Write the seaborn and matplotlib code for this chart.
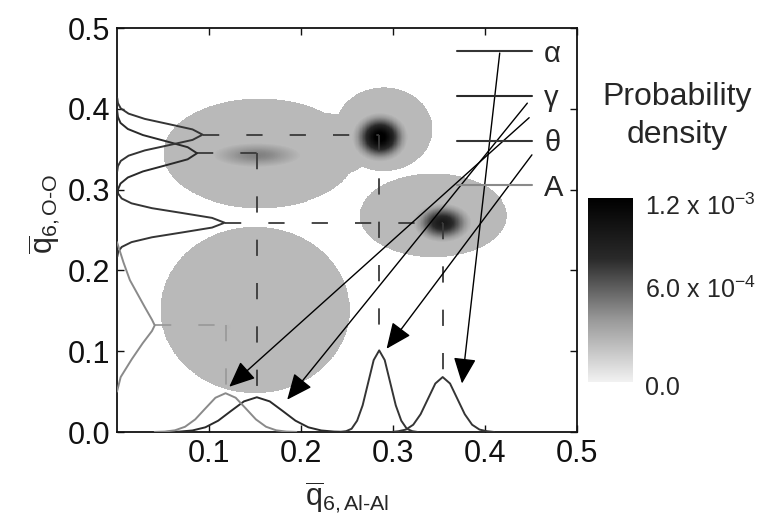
import numpy as np
import matplotlib
matplotlib.use("Agg")
import matplotlib.pyplot as plt
import seaborn as sns
from matplotlib.colors import LinearSegmentedColormap

sns.set_theme(style="ticks")
plt.rcParams['font.family'] = ['Liberation Sans', 'DejaVu Sans']
plt.rcParams['mathtext.fontset'] = 'custom'
plt.rcParams['mathtext.rm'] = 'Liberation Sans'
plt.rcParams['mathtext.it'] = 'Liberation Sans:italic'
plt.rcParams['mathtext.bf'] = 'Liberation Sans:bold'
plt.rcParams['mathtext.sf'] = 'Liberation Sans'

# ---------------- data ----------------
phases = ['α', 'γ', 'θ', 'A']
phase_colors = ['#353535', '#2a2a2a', '#353535', '#8a8a8a']

# bottom marginal distributions (x = q6,Al-Al, y = density scaled)
alpha_bx = [0.298, 0.306, 0.314, 0.322, 0.330, 0.338, 0.346, 0.354, 0.362, 0.370, 0.378, 0.386, 0.394, 0.402, 0.410]
alpha_by = [0.000, 0.001, 0.003, 0.009, 0.022, 0.041, 0.060, 0.068, 0.060, 0.041, 0.022, 0.009, 0.003, 0.001, 0.000]
gamma_bx = [0.054, 0.068, 0.082, 0.096, 0.110, 0.124, 0.138, 0.152, 0.166, 0.180, 0.194, 0.208, 0.222, 0.236, 0.250]
gamma_by = [0.0001, 0.0005, 0.0019, 0.0058, 0.0140, 0.0261, 0.0379, 0.0430, 0.0379, 0.0261, 0.0140, 0.0058, 0.0019, 0.0005, 0.0001]
theta_bx = [0.243, 0.249, 0.255, 0.261, 0.267, 0.273, 0.279, 0.285, 0.291, 0.297, 0.303, 0.309, 0.315, 0.321, 0.327]
theta_by = [0.000, 0.001, 0.004, 0.014, 0.033, 0.061, 0.089, 0.101, 0.089, 0.061, 0.033, 0.014, 0.004, 0.001, 0.000]
amor_bx = [0.041, 0.052, 0.063, 0.074, 0.085, 0.096, 0.107, 0.118, 0.129, 0.140, 0.151, 0.162, 0.173, 0.184, 0.195]
amor_by = [0.0001, 0.0005, 0.0021, 0.0065, 0.0156, 0.0291, 0.0424, 0.0480, 0.0424, 0.0291, 0.0156, 0.0065, 0.0021, 0.0005, 0.0001]

# left marginal distributions (y = q6,O-O, x = density scaled)
alpha_ly = [0.217, 0.223, 0.229, 0.235, 0.241, 0.247, 0.253, 0.259, 0.265, 0.271, 0.277, 0.283, 0.289, 0.295, 0.301]
alpha_lx = [0.0003, 0.0013, 0.0051, 0.0158, 0.0380, 0.0710, 0.1033, 0.117, 0.1033, 0.0710, 0.0380, 0.0158, 0.0051, 0.0013, 0.0003]
gamma_ly = [0.2925, 0.300, 0.3075, 0.315, 0.3225, 0.330, 0.3375, 0.345, 0.3525, 0.360, 0.3675, 0.375, 0.3825, 0.390, 0.3975]
gamma_lx = [0.0002, 0.0010, 0.0038, 0.0118, 0.0282, 0.0528, 0.0768, 0.087, 0.0768, 0.0528, 0.0282, 0.0118, 0.0038, 0.0010, 0.0002]
theta_ly = [0.3225, 0.329, 0.3355, 0.342, 0.3485, 0.355, 0.3615, 0.368, 0.3745, 0.381, 0.3875, 0.394, 0.4005, 0.407, 0.4135]
theta_lx = [0.0002, 0.0010, 0.0041, 0.0126, 0.0302, 0.0564, 0.0821, 0.093, 0.0821, 0.0564, 0.0302, 0.0126, 0.0041, 0.0010, 0.0002]
amor_ly = [0.050, 0.068, 0.090, 0.110, 0.125, 0.132, 0.139, 0.155, 0.188, 0.210, 0.235]
amor_lx = [0.000, 0.004, 0.016, 0.028, 0.038, 0.041, 0.038, 0.030, 0.014, 0.007, 0.000]

# peak positions of each phase (centre of 2D density) and marginal peak heights
peak_x = [0.354, 0.152, 0.285, 0.118]
peak_y = [0.259, 0.345, 0.368, 0.132]
left_peak_h = [0.117, 0.087, 0.093, 0.041]
bottom_peak_h = [0.068, 0.043, 0.101, 0.048]

# 2D density: extent of the low-density regions (ellipses) and dense cores
region_x = [0.344, 0.155, 0.290, 0.222, 0.150]
region_y = [0.268, 0.345, 0.375, 0.355, 0.151]
region_ex = [0.080, 0.105, 0.053, 0.060, 0.103]
region_ey = [0.052, 0.068, 0.052, 0.040, 0.103]
core_x = [0.354, 0.152, 0.286, 0.120]
core_y = [0.259, 0.343, 0.365, 0.130]
core_sx = [0.017, 0.035, 0.015, 0.013]
core_sy = [0.013, 0.011, 0.015, 0.013]
core_amp = [8.5e-4, 3.8e-4, 1.15e-3, 1.6e-4]
density_floor = 2.6e-4

# arrows from legend entries to bottom peaks
arrow_sx = [0.416, 0.446, 0.451, 0.448]
arrow_sy = [0.469, 0.407, 0.343, 0.389]
arrow_ex = [0.375, 0.185, 0.293, 0.122]
arrow_ey = [0.060, 0.040, 0.103, 0.056]

cbar_ticks = [0.0, 6.0e-4, 1.2e-3]
cbar_labels = ['0.0', r'6.0 x 10$^{\mathregular{-4}}$', r'1.2 x 10$^{\mathregular{-3}}$']
xticks = [0.1, 0.2, 0.3, 0.4, 0.5]
yticks = [0.0, 0.1, 0.2, 0.3, 0.4, 0.5]

# ---------------- figure ----------------
fig = plt.figure(figsize=(7.69, 5.24), dpi=100)
ax = fig.add_axes([117/769, 1 - 432/524, 460/769, 404/524])

cmap = LinearSegmentedColormap.from_list('halftone', ['#f2f2f2', '#9a9a9a', '#2a2a2a', '#000000'])
vmax = 1.2e-3

g = np.linspace(0, 0.5, 801)
GX, GY = np.meshgrid(g, g)
inside = np.zeros_like(GX, dtype=bool)
for cx, cy, ex, ey in zip(region_x, region_y, region_ex, region_ey):
    inside |= ((GX - cx) / ex) ** 2 + ((GY - cy) / ey) ** 2 < 1
Z = np.zeros_like(GX)
for cx, cy, sx, sy, a in zip(core_x, core_y, core_sx, core_sy, core_amp):
    Z += a * np.exp(-0.5 * (((GX - cx) / sx) ** 2 + ((GY - cy) / sy) ** 2))
Zd = np.where(inside, np.maximum(Z + 1.1e-4, density_floor), np.nan)
ax.imshow(Zd, origin='lower', extent=[0, 0.5, 0, 0.5], cmap=cmap, vmin=0, vmax=vmax,
          interpolation='nearest', aspect='auto', zorder=0)

# dashed guide lines
for i in range(len(phases)):
    col = '#3a3a3a' if i < 3 else '#9a9a9a'
    ax.plot([left_peak_h[i], peak_x[i]], [peak_y[i], peak_y[i]], ls=(0, (9, 15)), color=col, lw=1.3, zorder=2)
    ax.plot([peak_x[i], peak_x[i]], [peak_y[i], bottom_peak_h[i]], ls=(0, (9, 15)), color=col, lw=1.3, zorder=2)

bottom_x = [alpha_bx, gamma_bx, theta_bx, amor_bx]
bottom_y = [alpha_by, gamma_by, theta_by, amor_by]
left_x = [alpha_lx, gamma_lx, theta_lx, amor_lx]
left_y = [alpha_ly, gamma_ly, theta_ly, amor_ly]

handles = []
for i, name in enumerate(phases):
    sns.lineplot(x=bottom_x[i], y=bottom_y[i], ax=ax, color=phase_colors[i], lw=1.4,
                 sort=False, estimator=None, zorder=3)
    handles.append(ax.lines[-1])
    sns.lineplot(x=left_x[i], y=left_y[i], ax=ax, color=phase_colors[i], lw=1.4,
                 sort=False, estimator=None, zorder=3)

for sx, sy, ex, ey in zip(arrow_sx, arrow_sy, arrow_ex, arrow_ey):
    ax.annotate('', xy=(ex, ey), xytext=(sx, sy),
                arrowprops=dict(arrowstyle='-|>,head_length=0.8,head_width=0.35', color='black',
                                lw=1.0, shrinkA=0, shrinkB=0, mutation_scale=20), zorder=4)

leg = ax.legend(handles, phases, loc='upper left', bbox_to_anchor=(0.713, 1.0), frameon=False,
                handlelength=2.6, handletextpad=0.4, labelspacing=0.57, fontsize=21,
                borderaxespad=0)
for l in leg.get_lines():
    l.set_linewidth(1.5)

ax.set_xlim(0, 0.5)
ax.set_ylim(0, 0.5)
ax.set_xticks(xticks)
ax.set_xticklabels([f'{v:.1f}' for v in xticks])
ax.set_yticks(yticks)
ax.set_yticklabels([f'{v:.1f}' for v in yticks])
ax.tick_params(direction='in', length=5, width=1, top=True, right=True, labelsize=22, pad=5, colors='#111111')
for s in ax.spines.values():
    s.set_linewidth(1.3)
    s.set_color('#111111')
ax.set_xlabel(r'$\overline{\mathrm{q}}_{\mathrm{6,Al\text{-}Al}}$', fontsize=22, labelpad=7)
ax.set_ylabel(r'$\overline{\mathrm{q}}_{\mathrm{6,O\text{-}O}}$', fontsize=22)
ax.yaxis.set_label_coords(-0.12, 0.54)

# colorbar
cax = fig.add_axes([588/769, 1 - 382/524, 45/769, 184/524])
grad = np.linspace(0, vmax, 256).reshape(-1, 1)
cax.imshow(grad, origin='lower', aspect='auto', cmap=cmap, vmin=0, vmax=vmax,
           extent=[0, 1, 0, vmax])
cax.set_axis_off()
label_pos = [-0.03, 0.5, 0.95]
for t, lab, yp in zip(cbar_ticks, cbar_labels, label_pos):
    cax.text(1.27, yp, lab, transform=cax.transAxes, va='center', ha='left', fontsize=18)
fig.text(677/769, 1 - 116/524, 'Probability\ndensity', ha='center', va='center', fontsize=23,
         linespacing=1.35)

fig.savefig('out.png', dpi=100)
